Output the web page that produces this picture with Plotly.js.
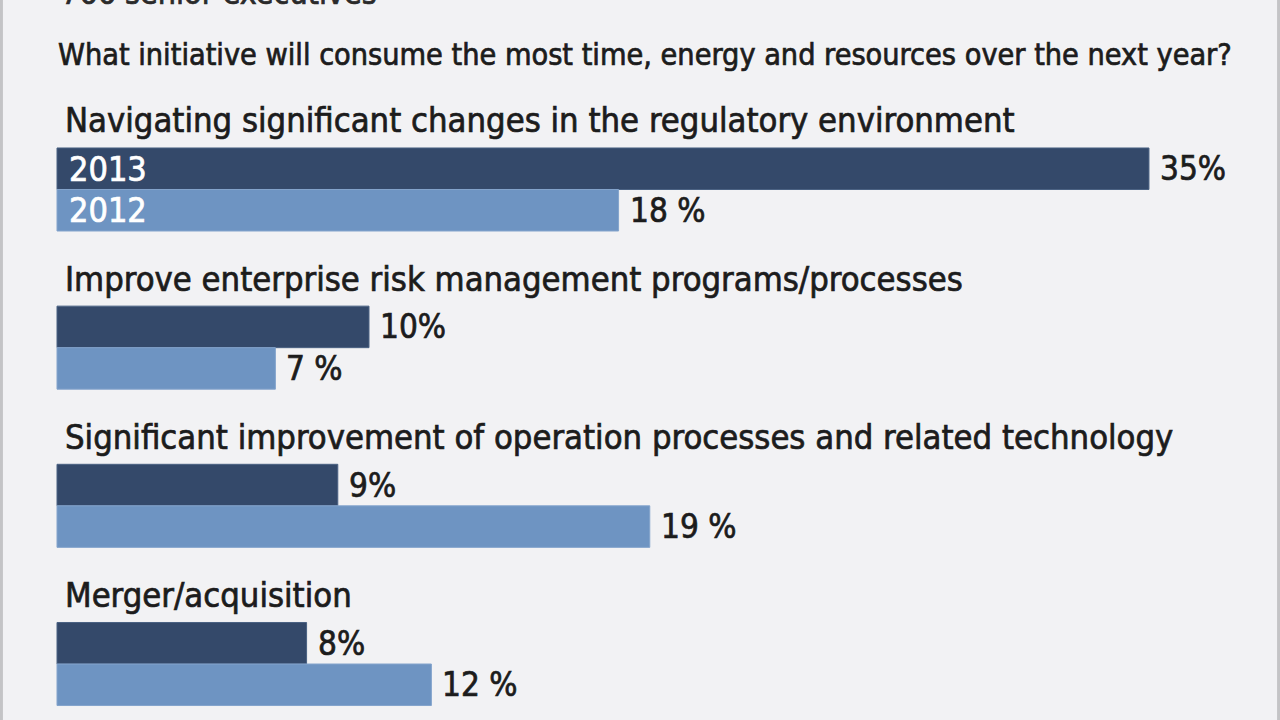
<!DOCTYPE html>
<html>
<head>
<meta charset="utf-8">
<script src="https://cdn.plot.ly/plotly-3.0.1.min.js"></script>
<style>
  html, body { margin: 0; padding: 0; background: #f2f2f4; }
  #chart { width: 1280px; height: 720px; }
</style>
</head>
<body>
<div id="chart"></div>
<script>
const categories = [
  "Navigating significant changes in the regulatory environment",
  "Improve enterprise risk management programs/processes",
  "Significant improvement of operation processes and related technology",
  "Merger/acquisition"
];
const values2013 = [35, 10, 9, 8];
const values2012 = [18, 7, 19, 12];
const labels2013 = ["35%", "10%", "9%", "8%"];
const labels2012 = ["18 %", "7 %", "19 %", "12 %"];
const seriesNames = ["2013", "2012"];
const titleText = "766 senior executives";
const subtitleText = "What initiative will consume the most time, energy and resources over the next year?";

const FONT = "'DejaVu Sans Condensed', 'Liberation Sans Narrow', Arial, sans-serif";
const DARK = "#34496a";
const LIGHT = "#6e94c2";
const TXT = "#1c1c1c";

const traces = [
  {
    type: "bar", orientation: "h", name: seriesNames[0],
    x: values2013, y: categories,
    marker: { color: DARK, line: { color: "#4a6283", width: 1 } },
    hoverinfo: "skip"
  },
  {
    type: "bar", orientation: "h", name: seriesNames[1],
    x: values2012, y: categories,
    marker: { color: LIGHT, line: { color: "#84a4cc", width: 1 } },
    hoverinfo: "skip"
  }
];

const BAR_HALF = 20.75;
const annotations = [];
categories.forEach((c, i) => {
  annotations.push({
    x: 0, y: c, xref: "x", yref: "y", xanchor: "left", yanchor: "middle",
    xshift: 6, yshift: 69, text: c, showarrow: false,
    font: { family: FONT, size: 34.3, color: TXT }
  });
  annotations.push({
    x: values2013[i], y: c, xref: "x", yref: "y", xanchor: "left", yanchor: "middle",
    xshift: 9, yshift: BAR_HALF, text: labels2013[i], showarrow: false,
    font: { family: FONT, size: 33, color: TXT }
  });
  annotations.push({
    x: values2012[i], y: c, xref: "x", yref: "y", xanchor: "left", yanchor: "middle",
    xshift: 9, yshift: -BAR_HALF, text: labels2012[i], showarrow: false,
    font: { family: FONT, size: 33, color: TXT }
  });
});
// series labels inside first bars
annotations.push({
  x: 0, y: categories[0], xref: "x", yref: "y", xanchor: "left", yanchor: "middle",
  xshift: 10, yshift: BAR_HALF, text: seriesNames[0], showarrow: false,
  font: { family: FONT, size: 34, color: "#ffffff" }
});
annotations.push({
  x: 0, y: categories[0], xref: "x", yref: "y", xanchor: "left", yanchor: "middle",
  xshift: 10, yshift: -BAR_HALF, text: seriesNames[1], showarrow: false,
  font: { family: FONT, size: 34, color: "#ffffff" }
});
// title (cut at top, as in the reference) and subtitle
annotations.push({
  x: 0.046, y: 1, xref: "paper", yref: "paper", xanchor: "left", yanchor: "bottom",
  yshift: -14, text: titleText, showarrow: false,
  font: { family: FONT, size: 32, color: "#2a2a2a" }
});
annotations.push({
  x: 0.044, y: 1, xref: "paper", yref: "paper", xanchor: "left", yanchor: "middle",
  yshift: -54, text: subtitleText, showarrow: false,
  font: { family: FONT, size: 30.3, color: TXT }
});

const layout = {
  width: 1280, height: 720,
  margin: { l: 0, r: 0, t: 0, b: 0 },
  paper_bgcolor: "#f2f2f4", plot_bgcolor: "#f2f2f4",
  showlegend: false,
  barmode: "group", bargap: 0.475, bargroupgap: 0,
  xaxis: { range: [-1.827, 39.2], visible: false, fixedrange: true },
  yaxis: { type: "category", categoryarray: categories, categoryorder: "array",
           range: [3.354, -1.198], autorange: false, visible: false, fixedrange: true },
  annotations: annotations,
  shapes: [
    { type: "rect", xref: "paper", yref: "paper", x0: 0, x1: 0.0023, y0: 0, y1: 1,
      fillcolor: "#c4c4c6", line: { width: 0 } },
    { type: "rect", xref: "paper", yref: "paper", x0: 0.9977, x1: 1, y0: 0, y1: 1,
      fillcolor: "#c4c4c6", line: { width: 0 } }
  ]
};

Plotly.newPlot("chart", traces, layout, { staticPlot: true, displayModeBar: false }).then(gd => {
  // heavier text weight, like the condensed medium face of the reference
  gd.querySelectorAll(".annotation-text").forEach(t => {
    const fill = t.style.fill || "#1c1c1c";
    t.style.stroke = fill;
    t.style.strokeWidth = "0.7px";
  });
});
</script>
</body>
</html>
